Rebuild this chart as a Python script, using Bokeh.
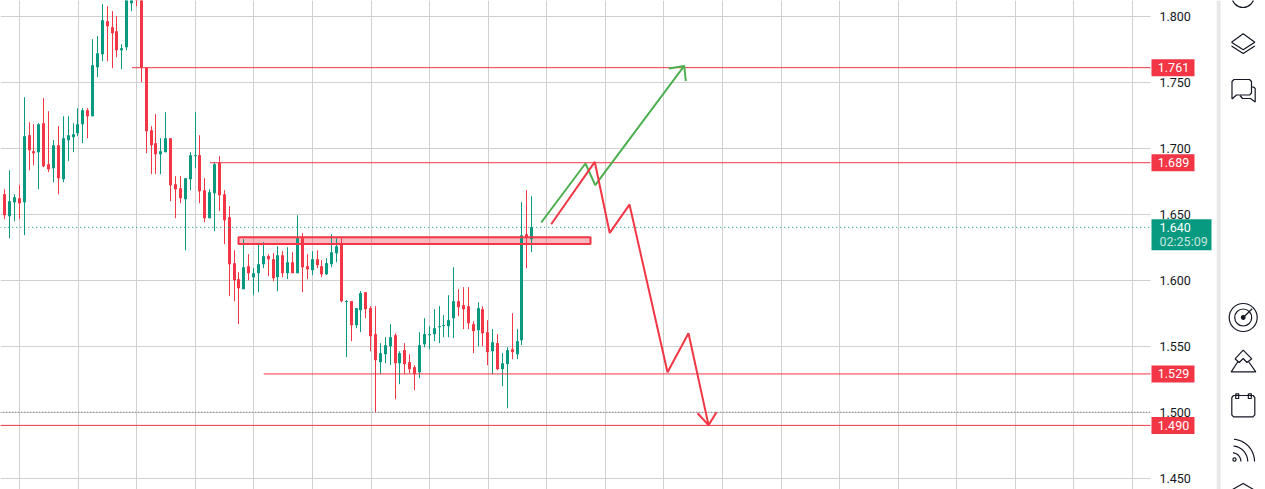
from bokeh.plotting import figure
from bokeh.layouts import row
from bokeh.models import Range1d, FixedTicker, NumeralTickFormatter, Grid
from bokeh.core.properties import value
from bokeh.embed import file_html
from bokeh.resources import INLINE
import numpy as np

GREEN = "#089981"
RED = "#F23645"
DRAW_GREEN = "#4CAF50"
INK = "#131722"
GRID = "#d0d0d0"

opens = [1.6651,1.6485,1.6591,1.6621,1.6591,1.7098,1.6977,1.6970,1.7189,1.6879,1.6848,1.7023,1.6765,1.7061,1.7083,1.7114,1.7182,1.7288,1.7242,1.7614,1.7712,1.7962,1.7917,1.7886,1.7742,1.7765,1.8098,1.8250,1.8350,1.7609,1.7136,1.7038,1.6955,1.6970,1.7076,1.6727,1.6697,1.6614,1.6765,1.6939,1.6947,1.6682,1.6470,1.6659,1.6891,1.6651,
 1.6477,1.6129,1.6008,1.5932,1.6106,1.6023,1.6053,1.6121,1.6182,1.6159,1.6023,1.6189,1.6053,1.6136,1.6053,1.6318,1.6106,1.6076,1.6159,1.6106,1.6045,1.6121,1.6205,1.6273,1.5836,1.5841,1.5659,1.5773,1.5909,1.5788,1.5591,1.5379,1.5439,1.5500,1.5583,1.5371,1.5470,1.5379,1.5341,1.5303,1.5515,1.5583,1.5591,1.5644,1.5652,1.5652,1.5712,1.5841,1.5811,1.5803,1.5667,1.5621,1.5780,1.5606,1.5462,1.5523,1.5326,1.5364,1.5477,1.5439,1.5545,1.6348,1.6311]
highs = [1.6689,1.6833,1.6651,1.6720,1.7386,1.7197,1.7182,1.7189,1.7379,1.7280,1.7061,1.7167,1.7242,1.7242,1.7189,1.7303,1.7303,1.7303,1.7826,1.7849,1.8091,1.8076,1.8038,1.8000,1.7788,1.8300,1.8280,1.8300,1.8400,1.7609,1.7167,1.7258,1.7076,1.7273,1.7076,1.6788,1.6788,1.6773,1.6970,1.7273,1.7098,1.6773,1.6689,1.6894,1.6939,1.6682,
 1.6561,1.6227,1.6061,1.6311,1.6197,1.6091,1.6280,1.6288,1.6197,1.6205,1.6258,1.6220,1.6250,1.6212,1.6492,1.6356,1.6197,1.6220,1.6227,1.6152,1.6167,1.6348,1.6318,1.6318,1.5849,1.5841,1.5788,1.5917,1.5909,1.5803,1.5803,1.5523,1.5568,1.5667,1.5598,1.5462,1.5523,1.5439,1.5356,1.5606,1.5712,1.5652,1.5780,1.5803,1.5735,1.5886,1.6098,1.5932,1.5947,1.5947,1.5689,1.5833,1.5803,1.5697,1.5629,1.5591,1.5447,1.5492,1.5750,1.5629,1.6591,1.6682,1.6636]
lows = [1.6462,1.6318,1.6447,1.6462,1.6341,1.6833,1.6871,1.6689,1.6856,1.6818,1.6742,1.6651,1.6742,1.6901,1.6970,1.7091,1.7038,1.7076,1.7242,1.7538,1.7659,1.7659,1.7606,1.7689,1.7598,1.7742,1.8038,1.8076,1.7500,1.6962,1.6803,1.6803,1.6803,1.6970,1.6598,1.6470,1.6583,1.6227,1.6682,1.6848,1.6583,1.6439,1.6470,1.6371,1.6523,1.6273,
 1.5879,1.5841,1.5667,1.5932,1.6000,1.5886,1.5909,1.6091,1.6030,1.5992,1.5917,1.6023,1.6008,1.6053,1.6053,1.5909,1.6008,1.6038,1.6091,1.6023,1.6038,1.6098,1.6136,1.5833,1.5417,1.5538,1.5636,1.5606,1.5712,1.5462,1.5000,1.5288,1.5371,1.5356,1.5098,1.5212,1.5288,1.5295,1.5167,1.5258,1.5492,1.5477,1.5538,1.5523,1.5568,1.5568,1.5561,1.5727,1.5629,1.5629,1.5447,1.5500,1.5500,1.5356,1.5288,1.5318,1.5197,1.5030,1.5402,1.5402,1.5508,1.6091,1.6212]
closes = [1.6492,1.6598,1.6629,1.6583,1.7091,1.6985,1.6962,1.7182,1.6864,1.6841,1.7023,1.6773,1.7076,1.7098,1.7106,1.7182,1.7288,1.7242,1.7629,1.7720,1.7970,1.7924,1.7871,1.7742,1.7758,1.8200,1.8200,1.8125,1.7609,1.7129,1.7023,1.6955,1.6977,1.7076,1.6720,1.6689,1.6621,1.6773,1.6947,1.6947,1.6674,1.6470,1.6667,1.6879,1.6644,1.6455,
 1.6121,1.6000,1.5939,1.6098,1.6053,1.6053,1.6121,1.6182,1.6159,1.6015,1.6189,1.6053,1.6136,1.6053,1.6318,1.6098,1.6083,1.6159,1.6114,1.6045,1.6129,1.6212,1.6258,1.5841,1.5843,1.5659,1.5788,1.5902,1.5780,1.5576,1.5394,1.5447,1.5508,1.5568,1.5371,1.5447,1.5364,1.5326,1.5288,1.5508,1.5591,1.5591,1.5636,1.5652,1.5659,1.5697,1.5841,1.5795,1.5780,1.5674,1.5614,1.5788,1.5598,1.5455,1.5530,1.5326,1.5371,1.5470,1.5455,1.5538,1.6341,1.6326,1.6402]

price_ticks = [1.45, 1.50, 1.55, 1.60, 1.65, 1.70, 1.75, 1.80]
time_grid_bars = [3, 15, 27, 39, 51, 63, 75, 87, 99, 111, 123, 135, 147, 159, 171, 183, 195, 207, 219, 231]

level_prices = [1.761, 1.689, 1.529, 1.490]
level_starts = [26, 42, 53, -1]
level_texts = ["1.761", "1.689", "1.529", "1.490"]
last_price = 1.640
last_text = "1.640"
round_price = 1.500
countdown = "02:25:09"

zone_bars = [47.83, 119.96]
zone_prices = [1.6275, 1.6326]

up_bars = [109.86, 118.93, 120.92, 139.16]
up_prices = [1.6437, 1.6884, 1.6720, 1.7623]
up_head_bars = [136.0, 139.16, 139.49]
up_head_prices = [1.7604, 1.7623, 1.7508]

down_bars = [111.9, 120.84, 123.9, 127.95, 135.74, 140.04, 144.15]
down_prices = [1.6424, 1.6896, 1.6358, 1.6573, 1.5303, 1.5598, 1.4902]
down_head_bars = [141.9, 144.15, 145.78]
down_head_prices = [1.4992, 1.4902, 1.5000]

opens, highs, lows, closes = map(np.array, (opens, highs, lows, closes))
BAR_PX = 4.88     # pixels per bar
ORIGIN_PX = 4.6   # pixel of bar 0
def bar_at(px):
    return (np.asarray(px, dtype=float) - ORIGIN_PX) / BAR_PX
def price_at(py):
    return 1.8 - (np.asarray(py, dtype=float) - 16) / 1320

# candles snap to whole pixel columns, as the original renderer does
idx = np.arange(len(opens))
bars = bar_at(np.floor(4.7 + BAR_PX * idx))
up = closes >= opens

p = figure(width=1216, height=489, frame_width=1216, frame_height=489, min_border=0,
           x_range=Range1d(float(bar_at(0)), float(bar_at(1216))), y_range=Range1d(1.44144, 1.81189),
           x_axis_location=None, y_axis_location="right", toolbar_location=None,
           output_backend="svg", outline_line_color=None, background_fill_color="white")
p.ygrid.visible = False
p.xgrid.visible = False
p.add_layout(Grid(dimension=0, ticker=FixedTicker(ticks=time_grid_bars), grid_line_color=GRID))
p.add_layout(Grid(dimension=1, ticker=FixedTicker(ticks=price_ticks), grid_line_color=GRID))

ax = p.yaxis[0]
ax.ticker = FixedTicker(ticks=price_ticks)
ax.formatter = NumeralTickFormatter(format="0.000")
ax.axis_line_color = None
ax.major_tick_line_color = None
ax.minor_tick_line_color = None
ax.major_tick_in = 0
ax.major_tick_out = 0
ax.major_label_standoff = -57
ax.major_label_text_font = "Roboto"
ax.major_label_text_font_size = "12.5px"
ax.major_label_text_color = INK

p.quad(left=[zone_bars[0]], right=[zone_bars[1]], bottom=[zone_prices[0]], top=[zone_prices[1]],
       fill_color=RED, fill_alpha=0.35, line_color=None)

colors = [GREEN if u else RED for u in up]
p.segment(bars, lows, bars, highs, line_color=colors, line_width=1)
p.vbar(bars, 3 / BAR_PX, np.minimum(opens, closes), np.maximum(opens, closes),
       fill_color=colors, line_color=None)

p.quad(left=[zone_bars[0]], right=[zone_bars[1]], bottom=[zone_prices[0]], top=[zone_prices[1]],
       fill_color=None, line_color=RED, line_width=2)

x_end = 240
for lv, st in zip(level_prices, level_starts):
    p.line([st, x_end], [lv, lv], line_color=RED, line_width=1)
p.line([-1, x_end], [last_price, last_price], line_color=GREEN, line_width=1, line_dash="1 3")
p.line([-1, x_end], [round_price, round_price], line_color="#6a6d78", line_width=1, line_dash="1 2")

p.line(up_bars, up_prices, line_color=DRAW_GREEN, line_width=2)
p.line(up_head_bars, up_head_prices, line_color=DRAW_GREEN, line_width=2)
p.line(down_bars, down_prices, line_color=RED, line_width=2)
p.line(down_head_bars, down_head_prices, line_color=RED, line_width=2)

# price scale background, tags above the scale's own labels
p.quad(left=[float(bar_at(1150))], right=[float(bar_at(1216))], bottom=[1.4], top=[1.9],
       fill_color="white", line_color=None)
half = 8.5 / 1320
p.quad(left=float(bar_at(1151)), right=float(bar_at(1194)),
       bottom=[lv - half for lv in level_prices], top=[lv + half for lv in level_prices],
       fill_color=RED, line_color=None, level="overlay")
p.text(x=float(bar_at(1173)), y=level_prices, text=level_texts, text_color="white", text_font=value("Roboto"),
       text_font_size="12.5px", text_align="center", text_baseline="middle", level="overlay")
p.quad(left=[float(bar_at(1151))], right=[float(bar_at(1211))], bottom=[float(price_at(250))], top=[float(price_at(219))],
       fill_color=GREEN, line_color=None, level="overlay")
p.text(x=float(bar_at(1159)), y=[last_price], text=[last_text], text_color="white", text_font=value("Roboto"),
       text_font_size="12.5px", text_align="left", text_baseline="middle", level="overlay")
p.text(x=float(bar_at(1159)), y=[float(price_at(241.5))], text=[countdown], text_color="#c4e6de", text_font=value("Roboto"),
       text_font_size="12.5px", text_align="left", text_baseline="middle", level="overlay")

q = figure(width=49, height=489, frame_width=49, frame_height=489, min_border=0,
           x_range=Range1d(1216, 1265), y_range=Range1d(489, 0),
           x_axis_location=None, y_axis_location=None, toolbar_location=None,
           output_backend="svg", outline_line_color=None, background_fill_color="white")
q.xgrid.visible = False
q.ygrid.visible = False
q.quad(left=[1216], right=[1220], top=[0], bottom=[489], fill_color="#e8e8e8", line_color=None)

def arc(cx, cy, r, a0, a1, n=24):
    t = np.radians(np.linspace(a0, a1, n))
    return list(cx + r * np.cos(t)), list(cy + r * np.sin(t))

paths = [
    ([1231, 1242.7, 1254.3, 1242.7, 1231], [41.7, 33.3, 41.7, 49.3, 41.7]),
    ([1231, 1242.7, 1254.3], [45.5, 53, 45.5]),
    ([1231.5, 1231.5, 1233.5, 1249, 1251, 1251, 1249, 1236, 1231.5], [98.5, 81, 79, 79, 81, 92.5, 94.5, 94.5, 98.5]),
    ([1251, 1253, 1254.7, 1254.7, 1250, 1242, 1239.5], [86.5, 86.5, 88, 101.5, 98, 98, 95]),
    ([1242.7, 1251.7], [317, 308.3]),
    ([1234.5, 1242.7, 1251.3, 1246.5, 1242.7, 1238.7, 1234.5], [358.3, 349.7, 358.3, 362, 358, 362, 358.3]),
    ([1237.5, 1230.7, 1255.3, 1248], [361, 371.3, 371.3, 361]),
    ([1233, 1252.5, 1254.3, 1254.3, 1252.5, 1233, 1231.3, 1231.3, 1233], [395, 395, 397, 414.3, 416.3, 416.3, 414.3, 397, 395]),
    ([1235.2, 1235.2, 1238.2, 1238.2, 1235.2], [393.3, 398, 398, 393.3, 393.3]),
    ([1247.8, 1247.8, 1250.8, 1250.8, 1247.8], [393.3, 398, 398, 393.3, 393.3]),
    ([1232, 1242.7, 1253], [489, 483, 489]),
    arc(1231.7, 461, 22.3, -85, 0),
    arc(1231.7, 461, 15.5, -85, 0),
    arc(1231.7, 461, 8.7, -85, 0),
]
q.multi_line([a for a, _ in paths], [b for _, b in paths], line_color=INK, line_width=1.2)
q.circle([1242.5, 1242.7, 1242.7], [-4, 317, 317], radius=[11, 14, 8.5], fill_color=None, line_color=INK, line_width=1.2)
q.circle([1242.7, 1234], [317, 459], radius=[1.8, 1.6], fill_color=[INK, None], line_color=INK, line_width=1.2)

page = row(p, q, spacing=0)
open("out.html", "w").write(file_html(page, INLINE))
